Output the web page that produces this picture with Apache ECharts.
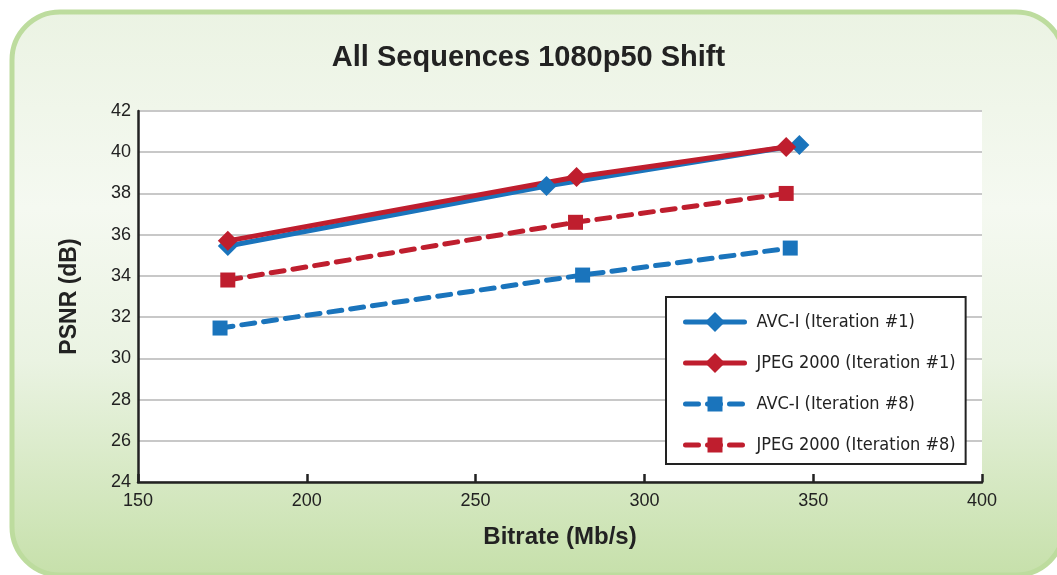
<!DOCTYPE html>
<html><head><meta charset="utf-8">
<script src="https://cdn.jsdelivr.net/npm/echarts@6/dist/echarts.min.js"></script>
<style>html,body{margin:0;padding:0;background:#fff}#c{width:1057px;height:575px}</style>
</head><body><div id="c"></div>
<script>
const title = 'All Sequences 1080p50 Shift';
const xName = 'Bitrate (Mb/s)';
const yName = 'PSNR (dB)';
const seriesNames = ['AVC-I (Iteration #1)', 'JPEG 2000 (Iteration #1)', 'AVC-I (Iteration #8)', 'JPEG 2000 (Iteration #8)'];
const avc1 = [[176.6, 35.45], [271.0, 38.36], [345.9, 40.35]];
const jpeg1 = [[176.6, 35.7], [279.9, 38.8], [342.0, 40.25]];
const avc8 = [[174.3, 31.47], [281.7, 34.04], [343.2, 35.35]];
const jpeg8 = [[176.6, 33.8], [279.6, 36.6], [342.0, 38.0]];
const xTicks = [150, 200, 250, 300, 350, 400];
const yTicks = [24, 26, 28, 30, 32, 34, 36, 38, 40, 42];

const blue = '#1a74bc', red = '#bf1e2e';
const font = '"Liberation Sans", Arial, sans-serif';
const narrow = '"Liberation Sans Narrow", "DejaVu Sans Condensed", sans-serif';
// square drawn inside a padded box so it looks smaller than the diamond at the same size
const squarePath = 'path://M0,0M20,20M2.5,2.5L17.5,2.5L17.5,17.5L2.5,17.5Z';

function mk(name, data, color, solid) {
  return {
    name, type: 'line', data,
    symbol: solid ? 'diamond' : squarePath,
    symbolSize: 20,
    lineStyle: { color, width: 5, type: solid ? 'solid' : [13, 9], cap: 'round' },
    itemStyle: { color },
    z: 3
  };
}

const chart = echarts.init(document.getElementById('c'), null, { renderer: 'canvas' });
chart.setOption({
  animation: false,
  graphic: [{
    type: 'rect', z: -10, silent: true,
    shape: { x: 12, y: 12, width: 1052, height: 563, r: 48 },
    style: {
      fill: new echarts.graphic.LinearGradient(0, 0, 0, 1, [
        { offset: 0, color: '#ebf3e3' },
        { offset: 0.35, color: '#f5f9f1' },
        { offset: 0.62, color: '#eaf3e2' },
        { offset: 1, color: '#c6e0aa' }
      ]),
      stroke: '#bddc9e', lineWidth: 5
    }
  }],
  title: {
    text: title, left: 'center', top: 38,
    textStyle: { fontFamily: font, fontSize: 29, fontWeight: 'bold', color: '#222' }
  },
  grid: {
    left: 138, right: 75, top: 111, bottom: 93,
    show: true, backgroundColor: '#fff', borderWidth: 0
  },
  legend: {
    orient: 'vertical', left: 666, top: 297,
    data: seriesNames,
    backgroundColor: '#fff', borderColor: '#222', borderWidth: 2, borderRadius: 0,
    padding: [15, 10, 9, 17],
    itemWidth: 59, itemHeight: 25, itemGap: 21,
    lineStyle: { width: 5 },
    textStyle: { fontFamily: narrow, fontSize: 18, color: '#222', padding: [0, 0, 0, 7] }
  },
  xAxis: {
    type: 'value', min: 150, max: 400, interval: 50,
    name: xName, nameLocation: 'middle', nameGap: 43,
    nameTextStyle: { fontFamily: font, fontSize: 24, fontWeight: 'bold', color: '#222' },
    axisLine: { show: true, lineStyle: { color: '#222', width: 2.5 } },
    axisTick: { show: true, inside: true, length: 8, lineStyle: { color: '#222', width: 2.5 } },
    axisLabel: { fontFamily: font, fontSize: 18, color: '#222', margin: 10,
      formatter: v => xTicks.includes(v) ? String(v) : '' },
    splitLine: { show: false }
  },
  yAxis: {
    type: 'value', min: 24, max: 42, interval: 2,
    name: yName, nameLocation: 'middle', nameGap: 57,
    nameTextStyle: { fontFamily: font, fontSize: 23, fontWeight: 'bold', color: '#222' },
    axisLine: { show: true, lineStyle: { color: '#222', width: 2.5 } },
    axisTick: { show: false },
    axisLabel: { fontFamily: font, fontSize: 18, color: '#222', margin: 7,
      formatter: v => yTicks.includes(v) ? String(v) : '' },
    splitLine: { show: true, lineStyle: { color: '#c8c8c8', width: 2 } }
  },
  series: [
    mk(seriesNames[2], avc8, blue, false),
    mk(seriesNames[3], jpeg8, red, false),
    mk(seriesNames[0], avc1, blue, true),
    mk(seriesNames[1], jpeg1, red, true)
  ]
});
</script></body></html>
